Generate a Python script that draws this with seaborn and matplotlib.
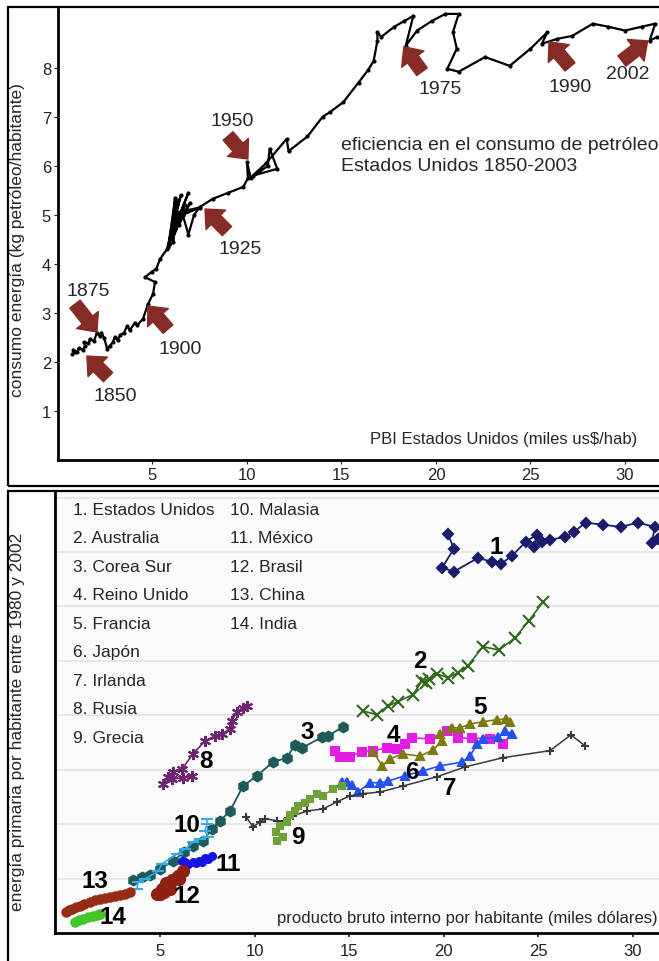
import matplotlib
matplotlib.use("Agg")
import matplotlib.pyplot as plt
import seaborn as sns
from matplotlib.patches import Rectangle

sns.set_theme(style="white")
FONT = ["Liberation Sans Narrow", "Liberation Sans", "DejaVu Sans"]
plt.rcParams["font.family"] = FONT

# ---------------- data: top panel (USA 1850-2003) ----------------
us_gdp = [0.74, 0.9, 0.8, 1.0, 1.1, 1.3, 1.45, 1.35, 1.6, 1.7, 1.9, 2.06, 2.2, 2.3, 2.45,
          2.6, 2.75, 2.9, 3.0, 3.15, 3.3, 3.5, 3.65, 3.8, 4.07, 4.2, 4.5, 4.76, 5.03, 5.13,
          4.6, 4.97, 5.2, 5.4, 5.77, 6.1, 6.3, 5.9, 6.5, 5.8, 6.9, 6.0, 6.2, 5.85, 6.7,
          6.05, 6.6, 7.0, 6.4, 6.3, 7.5, 6.6, 6.9, 7.2, 7.5, 8.2, 9.0, 9.8, 10.05, 10.0,
          10.2, 11.1, 11.2, 11.6, 10.3, 11.0, 12.1, 12.2, 13.2, 14.0, 14.4, 15.1, 15.9,
          16.4, 16.7, 16.9, 16.9, 17.1, 17.8, 18.3, 18.8, 18.4, 19.0, 19.8, 20.5, 21.2,
          20.9, 21.1, 20.6, 21.2, 22.6, 23.9, 25.0, 25.9, 25.6, 26.4, 27.2, 28.3, 29.1,
          30.0, 30.9, 31.6, 31.3, 31.7]
us_energy = [2.16, 2.2, 2.25, 2.2, 2.28, 2.25, 2.32, 2.4, 2.38, 2.47, 2.42, 2.6, 2.53, 2.6,
             2.48, 2.27, 2.33, 2.4, 2.5, 2.45, 2.55, 2.6, 2.73, 2.65, 2.8, 2.75, 2.88, 3.18,
             3.39, 3.63, 3.73, 3.84, 3.9, 4.1, 4.3, 4.45, 5.3, 4.5, 5.4, 4.35, 5.45, 4.6,
             5.35, 4.4, 5.2, 4.5, 5.0, 5.25, 4.8, 5.05, 5.15, 5.0, 4.6, 5.0, 5.16, 5.33,
             5.45, 5.57, 5.75, 6.08, 5.75, 6.0, 6.35, 5.94, 5.8, 6.05, 6.55, 6.3, 6.6, 7.0,
             7.1, 7.3, 7.7, 7.95, 8.14, 8.55, 8.73, 8.63, 8.84, 8.95, 9.06, 8.45, 8.76,
             8.96, 9.1, 9.1, 8.73, 8.39, 7.98, 7.92, 8.22, 8.04, 8.39, 8.73, 8.49, 8.59,
             8.65, 8.9, 8.84, 8.76, 8.84, 8.9, 8.55, 8.63]

# year arrows: label, tip (x, y), tail (x, y), text position (x, y)
year_labels = ["1850", "1875", "1900", "1925", "1950", "1975", "1990", "2002"]
arrow_tips = [(1.53, 2.12), (2.06, 2.61), (4.76, 3.14), (7.78, 5.12),
              (10.05, 6.14), (18.3, 8.43), (25.98, 8.53), (31.2, 8.55)]
arrow_tails = [(2.65, 1.69), (0.9, 3.18), (5.82, 2.67), (8.94, 4.67),
               (9.0, 6.61), (19.26, 7.92), (27.09, 8.02), (29.84, 8.14)]
year_text_pos = [(3.02, 1.31), (1.59, 3.45), (6.46, 2.27), (9.63, 4.31),
                 (9.2, 6.92), (20.2, 7.57), (27.09, 7.61), (30.16, 7.88)]

# ---------------- data: bottom panel (countries 1980-2002) ----------------
country_names = ["1. Estados Unidos", "2. Australia", "3. Corea Sur", "4. Reino Unido",
                 "5. Francia", "6. Japón", "7. Irlanda", "8. Rusia", "9. Grecia",
                 "10. Malasia", "11. México", "12. Brasil", "13. China", "14. India"]

usa_x = [20.23, 20.55, 19.92, 20.55, 21.82, 22.56, 23.04, 23.62, 24.36, 24.94, 24.78,
         25.2, 25.63, 26.42, 26.9, 27.53, 28.43, 29.38, 30.28, 31.18, 31.02, 31.34]
usa_y = [7.33, 7.06, 6.71, 6.64, 6.89, 6.82, 6.78, 6.93, 7.19, 7.32, 7.10, 7.19, 7.22,
         7.28, 7.37, 7.54, 7.50, 7.46, 7.54, 7.46, 7.17, 7.24]
aus_x = [15.73, 16.47, 17.06, 17.59, 18.38, 18.86, 19.23, 19.05, 19.65, 20.23, 20.76,
         21.29, 22.08, 22.93, 23.78, 24.52, 25.26]
aus_y = [4.08, 4.01, 4.17, 4.25, 4.38, 4.63, 4.67, 4.60, 4.76, 4.69, 4.78, 4.91, 5.26,
         5.20, 5.42, 5.74, 6.08]
kor_x = [3.57, 4.05, 4.47, 5.0, 5.69, 6.27, 6.74, 7.27, 7.75, 8.17, 8.7, 9.39, 10.13,
         10.97, 11.71, 12.14, 12.51, 13.57, 13.89, 14.68]
kor_y = [0.97, 1.03, 1.07, 1.18, 1.32, 1.49, 1.60, 1.69, 1.91, 2.06, 2.24, 2.70, 2.89,
         3.14, 3.22, 3.46, 3.40, 3.60, 3.62, 3.79]
gbr_x = [14.25, 14.52, 15.05, 15.68, 16.27, 17.01, 17.54, 17.96, 18.33, 19.28, 20.18,
         20.76, 21.5, 22.45, 23.14]
gbr_y = [3.35, 3.24, 3.24, 3.33, 3.35, 3.40, 3.38, 3.47, 3.58, 3.57, 3.71, 3.58, 3.58,
         3.57, 3.47]
fra_x = [16.27, 16.75, 17.16, 17.85, 18.75, 19.44, 19.92, 19.81, 20.44, 20.87, 21.4,
         22.08, 22.83, 23.3, 23.51]
fra_y = [3.33, 3.07, 3.20, 3.29, 3.25, 3.36, 3.53, 3.66, 3.77, 3.77, 3.84, 3.88, 3.92,
         3.93, 3.88]
jpn_x = [14.63, 14.9, 15.15, 15.47, 16.1, 16.63, 17.06, 17.96, 18.91, 19.81, 20.97, 21.4,
         21.77, 22.09, 22.88, 23.25, 23.62]
jpn_y = [2.78, 2.78, 2.72, 2.59, 2.76, 2.76, 2.79, 2.89, 2.98, 3.07, 3.14, 3.25, 3.47,
         3.57, 3.60, 3.71, 3.66]
irl_x = [9.56, 9.92, 10.29, 10.56, 11.19, 11.61, 12.03, 12.77, 13.62, 14.36, 15.05,
         15.74, 16.64, 17.85, 19.65, 21.13, 23.14, 25.63, 26.74, 27.48]
irl_y = [2.13, 1.95, 2.04, 2.10, 2.06, 2.06, 2.15, 2.24, 2.28, 2.41, 2.52, 2.56, 2.59,
         2.70, 2.87, 3.05, 3.22, 3.35, 3.64, 3.44]
rus_x = [9.6, 9.39, 9.07, 8.8, 8.7, 8.28, 7.9, 7.38, 6.74, 6.16, 5.69, 5.42, 5.16, 5.63,
         6.21, 6.69]
rus_y = [4.17, 4.14, 4.06, 3.90, 3.75, 3.66, 3.62, 3.53, 3.29, 3.01, 2.96, 2.87, 2.74,
         2.83, 2.85, 2.89]
grc_x = [11.19, 11.5, 11.13, 11.34, 11.71, 11.87, 12.14, 12.3, 12.67, 12.93, 13.3, 13.62,
         14.15, 14.63]
grc_y = [1.69, 1.76, 1.86, 1.97, 2.04, 2.17, 2.24, 2.33, 2.39, 2.46, 2.56, 2.52, 2.65,
         2.70]
mys_x = [3.25, 3.78, 3.83, 4.2, 4.89, 5.10, 5.89, 6.32, 6.74, 7.11, 7.53, 7.38, 7.48, 7.48]
mys_y = [0.72, 0.81, 0.94, 0.99, 1.14, 1.27, 1.45, 1.54, 1.67, 1.73, 1.76, 1.88, 2.0, 2.10]
mex_x = [6.16, 6.42, 6.74, 7.06, 7.38, 7.75, 7.54, 7.2, 6.9, 6.5, 6.3]
mex_y = [1.32, 1.25, 1.31, 1.32, 1.38, 1.42, 1.36, 1.30, 1.28, 1.27, 1.30]
bra_x = [4.85, 5.11, 5.32, 5.63, 5.95, 6.21, 6.0, 5.53, 5.21, 5.0]
bra_y = [0.72, 0.81, 0.92, 0.97, 1.05, 1.14, 1.00, 0.81, 0.75, 0.72]
chn_x = [0.02, 0.2, 0.34, 0.55, 0.76, 1.0, 1.29, 1.55, 1.82, 2.1, 2.35, 2.6, 2.88, 3.15,
         3.41]
chn_y = [0.39, 0.42, 0.44, 0.47, 0.50, 0.53, 0.57, 0.60, 0.63, 0.64, 0.66, 0.68, 0.70,
         0.72, 0.75]
ind_x = [0.5, 0.7, 0.92, 1.2, 1.45, 1.65, 1.82]
ind_y = [0.20, 0.23, 0.26, 0.29, 0.31, 0.33, 0.35]

series_x = [usa_x, aus_x, kor_x, gbr_x, fra_x, jpn_x, irl_x, rus_x, grc_x, mys_x, mex_x,
            bra_x, chn_x, ind_x]
series_y = [usa_y, aus_y, kor_y, gbr_y, fra_y, jpn_y, irl_y, rus_y, grc_y, mys_y, mex_y,
            bra_y, chn_y, ind_y]
colors = ["#1b1b6b", "#2f6a1e", "#1d5b58", "#e21fe0", "#7d7a12", "#2452ee", "#3a3a3a",
          "#6e2470", "#6fa13a", "#35a9ee", "#1414e6", "#8e2212", "#962c14", "#42c628"]
markers = ["D", "x", "h", "s", "^", "^", "+", (6, 2, 0), "s", "_", "o", "o", "o", "o"]
msizes = [5, 8, 7, 6, 6, 6, 6, 8, 5, 8, 5, 8, 6, 6]
lwidths = [1.3, 1.2, 1.3, 1.2, 1.2, 1.2, 1.1, 1.2, 1.0, 1.2, 3, 4, 4, 4]
num_label_pos = [(22.77, 7.10), (18.75, 5.0), (12.77, 3.71), (17.32, 3.64), (21.93, 4.17),
                 (18.33, 2.96), (20.34, 2.68), (7.43, 3.16), (12.3, 1.78), (6.42, 2.0),
                 (8.59, 1.27), (6.42, 0.68), (1.56, 0.96), (2.51, 0.31)]

# ---------------- figure ----------------
fig = plt.figure(figsize=(6.59, 9.62), dpi=100)
fig.patches.append(Rectangle((8 / 659, 475 / 962), 1.0, 479 / 962, transform=fig.transFigure,
                             fill=False, ec="black", lw=1.6, zorder=0))
fig.patches.append(Rectangle((8 / 659, -0.05), 1.0, 470 / 962 + 0.05, transform=fig.transFigure,
                             fill=False, ec="black", lw=1.6, zorder=0))

# top panel
ax1 = fig.add_axes([58 / 659, 501 / 962, 601 / 659, 451 / 962])
sns.lineplot(x=us_gdp, y=us_energy, sort=False, estimator=None, color="black",
             lw=1.6, marker="o", markersize=3, markeredgewidth=0, ax=ax1)
ax1.set_xlim(0, 31.8)
ax1.set_ylim(0, 9.2)
ax1.set_xticks([5, 10, 15, 20, 25, 30])
ax1.set_yticks([1, 2, 3, 4, 5, 6, 7, 8])
ax1.tick_params(axis="both", labelsize=12, direction="out", length=3, width=0.8,
                left=True, bottom=True, colors="#222222", pad=2)
for s in ["top", "right"]:
    ax1.spines[s].set_visible(False)
for s in ["left", "bottom"]:
    ax1.spines[s].set_linewidth(2)
    ax1.spines[s].set_color("black")
ax1.set_ylabel("consumo energía (kg petróleo/habitante)", fontsize=12.5)
ax1.yaxis.set_label_coords(-0.055, 0.49)
ax1.text(0.963, 0.047, "PBI Estados Unidos (miles us$/hab)", transform=ax1.transAxes,
         ha="right", va="center", fontsize=12)
ax1.text(15.0, 6.22, "eficiencia en el consumo de petróleo\nEstados Unidos 1850-2003",
         ha="left", va="center", fontsize=14, linespacing=1.25)

arrow_color = "#862b25"
for lab, tip, tail, tp in zip(year_labels, arrow_tips, arrow_tails, year_text_pos):
    ax1.annotate("", xy=tip, xytext=tail,
                 arrowprops=dict(arrowstyle="simple,head_length=1.0,head_width=1.8,tail_width=0.85",
                                 color=arrow_color, shrinkA=0, shrinkB=0, mutation_scale=11))
    ax1.text(tp[0], tp[1], lab, ha="center", va="center", fontsize=14)

# bottom panel
ax2 = fig.add_axes([55 / 659, 28 / 962, 604 / 659, 442 / 962])
ax2.set_facecolor("#fbfbfb")
for i in range(len(series_x)):
    sns.lineplot(x=series_x[i], y=series_y[i], sort=False, estimator=None, color=colors[i],
                 lw=lwidths[i], marker=markers[i], markersize=msizes[i],
                 markeredgecolor=colors[i], markeredgewidth=1.5, ax=ax2, zorder=3)
    lx, ly = num_label_pos[i]
    ax2.text(lx, ly, str(i + 1), ha="center", va="center", fontsize=17.5,
             fontweight="bold", color="black", zorder=5)
ax2.set_xlim(-0.56, 31.4)
ax2.set_ylim(0, 8.12)
ax2.set_xticks([5, 10, 15, 20, 25, 30])
ax2.set_yticks([1, 2, 3, 4, 5, 6, 7, 8])
ax2.grid(axis="y", color="#e4e4e4", lw=1.2)
ax2.tick_params(axis="x", labelsize=12, direction="out", length=3, bottom=True,
                colors="#222222", pad=4)
ax2.tick_params(axis="y", left=False, labelleft=False)
for s in ["top", "right"]:
    ax2.spines[s].set_visible(False)
for s in ["left", "bottom"]:
    ax2.spines[s].set_linewidth(2)
    ax2.spines[s].set_color("black")
ax2.set_ylabel("energía primaria por habitante entre 1980 y 2002", fontsize=12.5)
ax2.yaxis.set_label_coords(-0.05, 0.48)
ax2.text(0.997, 0.036, "producto bruto interno por habitante (miles dólares)",
         transform=ax2.transAxes, ha="right", va="center", fontsize=12)
for i, name in enumerate(country_names):
    col = 0 if i < 9 else 1
    row = i if i < 9 else i - 9
    ax2.text(0.030 + 0.26 * col, 0.959 - 0.0645 * row, name, transform=ax2.transAxes,
             ha="left", va="center", fontsize=12.5)

fig.savefig("out.png", dpi=100)
